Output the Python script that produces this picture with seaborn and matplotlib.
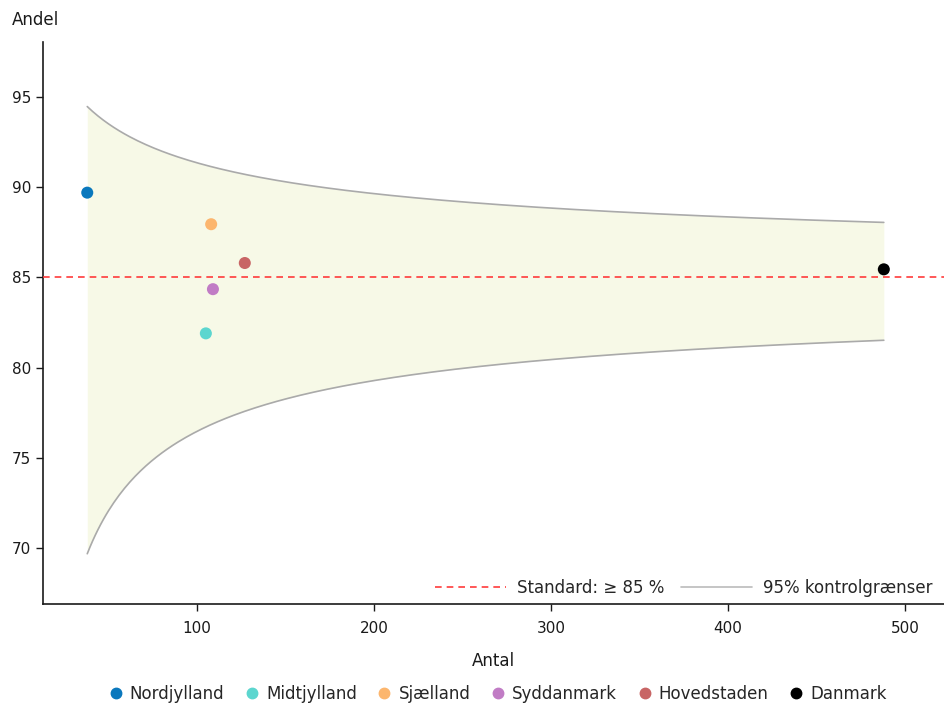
import math
import numpy as np
import pandas as pd
import matplotlib
matplotlib.use("Agg")
import matplotlib.pyplot as plt
from matplotlib.lines import Line2D
import seaborn as sns

# Regional results: number of patients and share meeting the standard (%)
regions = ["Nordjylland", "Midtjylland", "Sjælland", "Syddanmark", "Hovedstaden", "Danmark"]
antal = [38, 105, 108, 109, 127, 488]
andel = [89.7, 81.9, 87.95, 84.35, 85.8, 85.45]
colors = ["#0a78bd", "#5cd6cf", "#fcb66e", "#c17cc5", "#c86565", "#000000"]

standard = 85.0          # target share (%)
y_ticks = [70, 75, 80, 85, 90, 95]
x_ticks = [100, 200, 300, 400, 500]


# --- exact (Clopper-Pearson) control limits around the standard ---
def _betacf(a, b, x):
    qab, qap, qam = a + b, a + 1.0, a - 1.0
    c, d = 1.0, 1.0 - qab * x / qap
    d = 1.0 / (d if abs(d) > 1e-30 else 1e-30)
    h = d
    for m in range(1, 300):
        m2 = 2 * m
        aa = m * (b - m) * x / ((qam + m2) * (a + m2))
        d = 1.0 + aa * d
        d = 1.0 / (d if abs(d) > 1e-30 else 1e-30)
        c = 1.0 + aa / c
        c = c if abs(c) > 1e-30 else 1e-30
        h *= d * c
        aa = -(a + m) * (qab + m) * x / ((a + m2) * (qap + m2))
        d = 1.0 + aa * d
        d = 1.0 / (d if abs(d) > 1e-30 else 1e-30)
        c = 1.0 + aa / c
        c = c if abs(c) > 1e-30 else 1e-30
        de = d * c
        h *= de
        if abs(de - 1.0) < 1e-12:
            break
    return h


def _betainc(a, b, x):
    if x <= 0:
        return 0.0
    if x >= 1:
        return 1.0
    bt = math.exp(math.lgamma(a + b) - math.lgamma(a) - math.lgamma(b)
                  + a * math.log(x) + b * math.log(1 - x))
    if x < (a + 1) / (a + b + 2):
        return bt * _betacf(a, b, x) / a
    return 1.0 - bt * _betacf(b, a, 1 - x) / b


def _betaq(q, a, b):
    lo, hi = 0.0, 1.0
    for _ in range(60):
        mid = 0.5 * (lo + hi)
        if _betainc(a, b, mid) < q:
            lo = mid
        else:
            hi = mid
    return 0.5 * (lo + hi)


n_grid = np.linspace(min(antal), max(antal), 300)
p0 = standard / 100
lower = [100 * _betaq(0.025, p0 * n, n - p0 * n + 1) for n in n_grid]
upper = [100 * _betaq(0.975, p0 * n + 1, n - p0 * n) for n in n_grid]

df = pd.DataFrame({"region": regions, "antal": antal, "andel": andel})

# --- figure ---
sns.set_theme(style="ticks")
plt.rcParams["font.family"] = ["DejaVu Sans"]
ink = "#1a1a1a"

fig = plt.figure(figsize=(9.44, 7.04), dpi=100)
ax = fig.add_axes([43 / 944, 1 - 604 / 704, 1 - 43 / 944, (604 - 42) / 704])

ax.fill_between(n_grid, lower, upper, color="#f7f9e7", zorder=1, linewidth=0)
ax.plot(n_grid, upper, color="#aaaaaa", lw=1.2, zorder=2)
ax.plot(n_grid, lower, color="#aaaaaa", lw=1.2, zorder=2)
ax.axhline(standard, color="#ff3b3b", lw=1.2, ls=(0, (4, 3)), zorder=3)

sns.scatterplot(data=df, x="antal", y="andel", hue="region", hue_order=regions,
                palette=colors, s=75, linewidth=0, ax=ax, zorder=4, legend=False)

ax.set_xlim(13, 522)
ax.set_ylim(66.9, 98.05)
ax.set_xticks(x_ticks)
ax.set_yticks(y_ticks)
ax.tick_params(labelsize=11, length=5, width=1, colors=ink, labelcolor=ink)
ax.tick_params(axis="x", pad=7)
for s in ["top", "right"]:
    ax.spines[s].set_visible(False)
for s in ["left", "bottom"]:
    ax.spines[s].set_color(ink)
    ax.spines[s].set_linewidth(1.2)
ax.set_xlabel("Antal", fontsize=12, labelpad=12, color=ink)
ax.set_ylabel("")
fig.text(12 / 944, 1 - 20 / 704, "Andel", fontsize=12, va="center", ha="left", color=ink)

# reference-line legend inside the plot
ref_handles = [Line2D([], [], color="#ff3b3b", lw=1.2, ls=(0, (4, 3))),
               Line2D([], [], color="#bbbbbb", lw=1.2)]
ax.legend(ref_handles, ["Standard: ≥ 85 %", "95% kontrolgrænser"], loc="lower right",
          ncol=2, frameon=False, fontsize=12, handlelength=4.25, columnspacing=1.0,
          handletextpad=0.65, bbox_to_anchor=(1.0, -0.008), borderaxespad=0.3)

# region legend below the plot
pt_handles = [Line2D([], [], marker="o", ls="", color=c, markersize=7.5) for c in colors]
fig.legend(pt_handles, regions, loc="center", bbox_to_anchor=(497 / 944, 1 - 694 / 704),
           ncol=6, frameon=False, fontsize=12, handletextpad=0.35, columnspacing=1.15,
           handlelength=1.0)

fig.savefig("out.png", dpi=100)
